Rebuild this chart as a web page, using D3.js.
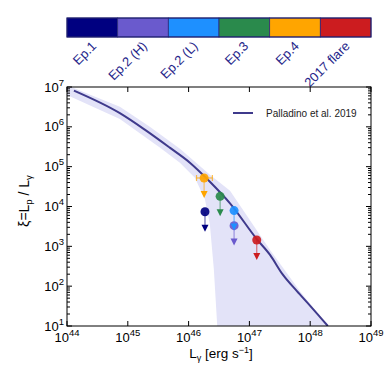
<!DOCTYPE html>
<html lang="en">
<head>
    <meta charset="UTF-8">
    <title>xi vs L gamma</title>
    <script type="text/javascript" src="https://cdn.jsdelivr.net/npm/d3@7/dist/d3.min.js"></script>
    <style type="text/css">
        body { margin: 0; background: #fff; }
        text { font-family: "Liberation Sans", Arial, sans-serif; }
    </style>
</head>
<body>
    <script type="text/javascript">
        //Width and height
        var w = 390;
        var h = 383;

        //Epochs (colour bar + points)
        var epochs = ["Ep.1", "Ep.2 (H)", "Ep.2 (L)", "Ep.3", "Ep.4", "2017 flare"];
        var epochColors = ["#000080", "#6a5acd", "#1e90ff", "#2a8a4c", "#ffa500", "#cc1c1f"];

        //Upper limits on xi, one per epoch
        var pointL  = [1.86e46, 5.6e46, 5.6e46, 3.3e46, 1.8e46, 1.32e47];
        var pointXi = [7.4e3, 3.3e3, 7.9e3, 1.8e4, 5.2e4, 1.44e3];
        //horizontal error (only Ep.4)
        var errLo = [null, null, null, null, 1.35e46, null];
        var errHi = [null, null, null, null, 2.46e46, null];

        //Palladino et al. 2019 curve
        var curveL  = [1.3e44, 7.4e44, 1.9e45, 4.9e45, 1.05e46, 2.2e46, 4.8e46, 1.33e47, 2.2e47, 3.5e47, 6.0e47, 1.0e48, 1.95e48];
        var curveXi = [8.1e6, 2.2e6, 8.5e5, 3.0e5, 1.26e5, 4.3e4, 1.2e4, 1.5e3, 600, 200, 76, 32, 10];

        //Band around the curve
        var bandUpL  = [1e44, 7.4e44, 2.3e45, 7.2e45, 2.24e46, 4.8e46, 2.2e47, 6.8e47, 1.95e48];
        var bandUpXi = [1.1e7, 3.2e6, 1.0e6, 2.8e5, 6.3e4, 2.5e4, 800, 75, 10];
        var bandLoL  = [1e44, 7.4e44, 3.4e45, 7.2e45, 1.27e46, 1.86e46, 2.24e46, 2.6e46, 2.97e46];
        var bandLoXi = [6.3e6, 1.58e6, 3.0e5, 1.26e5, 5.3e4, 1.5e4, 3.5e3, 270, 9];

        //Tick exponents
        var xTickExp = [44, 45, 46, 47, 48, 49];
        var yTickExp = [1, 2, 3, 4, 5, 6, 7];

        var pLeft = 67, pRight = 371, pTop = 87, pBottom = 326;

        var xScale = d3.scaleLog()
            .domain([1e44, 1e49])
            .range([pLeft, pRight]);

        var yScale = d3.scaleLog()
            .domain([10, 1e7])
            .range([pBottom, pTop]);

        //Create SVG element
        var svg = d3.select("body")
            .append("svg")
            .attr("width", w)
            .attr("height", h);

        svg.append("clipPath")
            .attr("id", "plotclip")
            .append("rect")
            .attr("x", pLeft)
            .attr("y", pTop)
            .attr("width", pRight - pLeft)
            .attr("height", pBottom - pTop);

        //Colour bar
        var cbScale = d3.scaleBand()
            .domain(epochs)
            .range([pLeft, pRight]);

        var cb = svg.append("g");
        cb.selectAll("rect")
            .data(epochs)
            .enter()
            .append("rect")
            .attr("x", function(d) { return cbScale(d); })
            .attr("y", 18)
            .attr("width", cbScale.bandwidth())
            .attr("height", 19)
            .attr("fill", function(d, i) { return epochColors[i]; })
            .attr("stroke", "#2a2a7a")
            .attr("stroke-width", 0.8);

        cb.append("rect")
            .attr("x", pLeft)
            .attr("y", 18)
            .attr("width", pRight - pLeft)
            .attr("height", 19)
            .attr("fill", "none")
            .attr("stroke", "#1a1a6a")
            .attr("stroke-width", 1);

        cb.selectAll("text")
            .data(epochs)
            .enter()
            .append("text")
            .attr("transform", function(d) {
                var cx = cbScale(d) + cbScale.bandwidth() / 2;
                return "translate(" + (cx - 2) + ",40) rotate(-45)";
            })
            .attr("text-anchor", "end")
            .attr("dy", "0.75em")
            .attr("font-size", 13)
            .attr("fill", "#26268a")
            .text(function(d) { return d; });

        var plot = svg.append("g").attr("clip-path", "url(#plotclip)");

        //Band
        var bandPts = [];
        bandUpL.forEach(function(d, i) { bandPts.push([d, bandUpXi[i]]); });
        for (var i = bandLoL.length - 1; i >= 0; i--) {
            bandPts.push([bandLoL[i], bandLoXi[i]]);
        }
        var line = d3.line()
            .x(function(d) { return xScale(d[0]); })
            .y(function(d) { return yScale(d[1]); });

        plot.append("path")
            .attr("d", line(bandPts) + "Z")
            .attr("fill", "#e3e3f8")
            .attr("stroke", "none");

        //Curve
        var curvePts = curveL.map(function(d, i) { return [d, curveXi[i]]; });
        plot.append("path")
            .attr("d", line.curve(d3.curveMonotoneX)(curvePts))
            .attr("fill", "none")
            .attr("stroke", "#3f3a8c")
            .attr("stroke-width", 2);
        line.curve(d3.curveLinear);

        //Upper limits
        var pts = epochs.map(function(d, i) {
            return { name: d, color: epochColors[i], L: pointL[i], xi: pointXi[i], lo: errLo[i], hi: errHi[i] };
        });
        var arrowF = Math.pow(10, -0.5); //arrow half a decade long

        pts.forEach(function(d) {
            var g = svg.append("g");
            var px = xScale(d.L), py = yScale(d.xi);
            var tip = yScale(d.xi * arrowF);
            g.append("line")
                .attr("x1", px).attr("x2", px)
                .attr("y1", py).attr("y2", tip - 6)
                .attr("stroke", d.color)
                .attr("stroke-opacity", 0.55)
                .attr("stroke-width", 1.3);
            g.append("path")
                .attr("d", "M" + (px - 3.5) + "," + (tip - 7) + "L" + (px + 3.5) + "," + (tip - 7) + "L" + px + "," + tip + "Z")
                .attr("fill", d.color);
            if (d.lo !== null) {
                var x1 = xScale(d.lo), x2 = xScale(d.hi);
                g.append("line")
                    .attr("x1", x1).attr("x2", x2)
                    .attr("y1", py).attr("y2", py)
                    .attr("stroke", d.color).attr("stroke-opacity", 0.7).attr("stroke-width", 1.2);
                [x1, x2].forEach(function(x) {
                    g.append("line")
                        .attr("x1", x).attr("x2", x)
                        .attr("y1", py - 3).attr("y2", py + 3)
                        .attr("stroke", d.color).attr("stroke-opacity", 0.7).attr("stroke-width", 1.2);
                });
            }
            g.append("circle")
                .attr("cx", px)
                .attr("cy", py)
                .attr("r", 4.5)
                .attr("fill", d.color)
                .attr("fill-opacity", 0.92);
        });

        //Axes frame + ticks
        var axes = svg.append("g").attr("stroke", "#000").attr("stroke-width", 1);
        axes.append("rect")
            .attr("x", pLeft).attr("y", pTop)
            .attr("width", pRight - pLeft).attr("height", pBottom - pTop)
            .attr("fill", "none");

        xTickExp.forEach(function(e) {
            var x = xScale(Math.pow(10, e));
            axes.append("line").attr("x1", x).attr("x2", x).attr("y1", pBottom).attr("y2", pBottom - 5);
            axes.append("line").attr("x1", x).attr("x2", x).attr("y1", pTop).attr("y2", pTop + 5);
        });

        yTickExp.forEach(function(e) {
            for (var m = 1; m < 10; m++) {
                var v = m * Math.pow(10, e);
                if (v > 1e7 || v < 10) continue;
                var y = yScale(v);
                var len = (m === 1) ? 5 : 3;
                axes.append("line").attr("x1", pLeft).attr("x2", pLeft + len).attr("y1", y).attr("y2", y);
                axes.append("line").attr("x1", pRight).attr("x2", pRight - len).attr("y1", y).attr("y2", y);
            }
        });

        //Tick labels
        xTickExp.forEach(function(e) {
            var t = svg.append("text")
                .attr("x", xScale(Math.pow(10, e)))
                .attr("y", 342)
                .attr("text-anchor", "middle")
                .attr("font-size", 13);
            t.append("tspan").text("10");
            t.append("tspan").attr("dy", -6).attr("font-size", 9.5).text(e);
        });

        yTickExp.forEach(function(e) {
            var t = svg.append("text")
                .attr("x", 64)
                .attr("y", yScale(Math.pow(10, e)) + 4.5)
                .attr("text-anchor", "end")
                .attr("font-size", 13);
            t.append("tspan").text("10");
            t.append("tspan").attr("dy", -6).attr("font-size", 9.5).text(e);
        });

        //Axis titles
        var xl = svg.append("text")
            .attr("x", 221)
            .attr("y", 358)
            .attr("text-anchor", "middle")
            .attr("font-size", 13.5);
        xl.append("tspan").text("L");
        xl.append("tspan").attr("dy", 3).attr("font-size", 9).text("\u03b3");
        xl.append("tspan").attr("dy", -3).text(" [erg s");
        xl.append("tspan").attr("dy", -5).attr("font-size", 9).text("\u22121");
        xl.append("tspan").attr("dy", 5).text("]");

        var yl = svg.append("text")
            .attr("transform", "translate(29,201) rotate(-90)")
            .attr("text-anchor", "middle")
            .attr("font-size", 14);
        yl.append("tspan").text("\u03be=L");
        yl.append("tspan").attr("dy", 3).attr("font-size", 9.5).text("p");
        yl.append("tspan").attr("dy", -3).text(" / L");
        yl.append("tspan").attr("dy", 3).attr("font-size", 9.5).text("\u03b3");

        //Legend
        svg.append("line")
            .attr("x1", 233).attr("x2", 253)
            .attr("y1", 113).attr("y2", 113)
            .attr("stroke", "#3f3a8c")
            .attr("stroke-width", 2);
        svg.append("text")
            .attr("x", 266)
            .attr("y", 117)
            .attr("font-size", 10)
            .attr("fill", "#222")
            .text("Palladino et al. 2019");
    </script>
</body>
</html>
